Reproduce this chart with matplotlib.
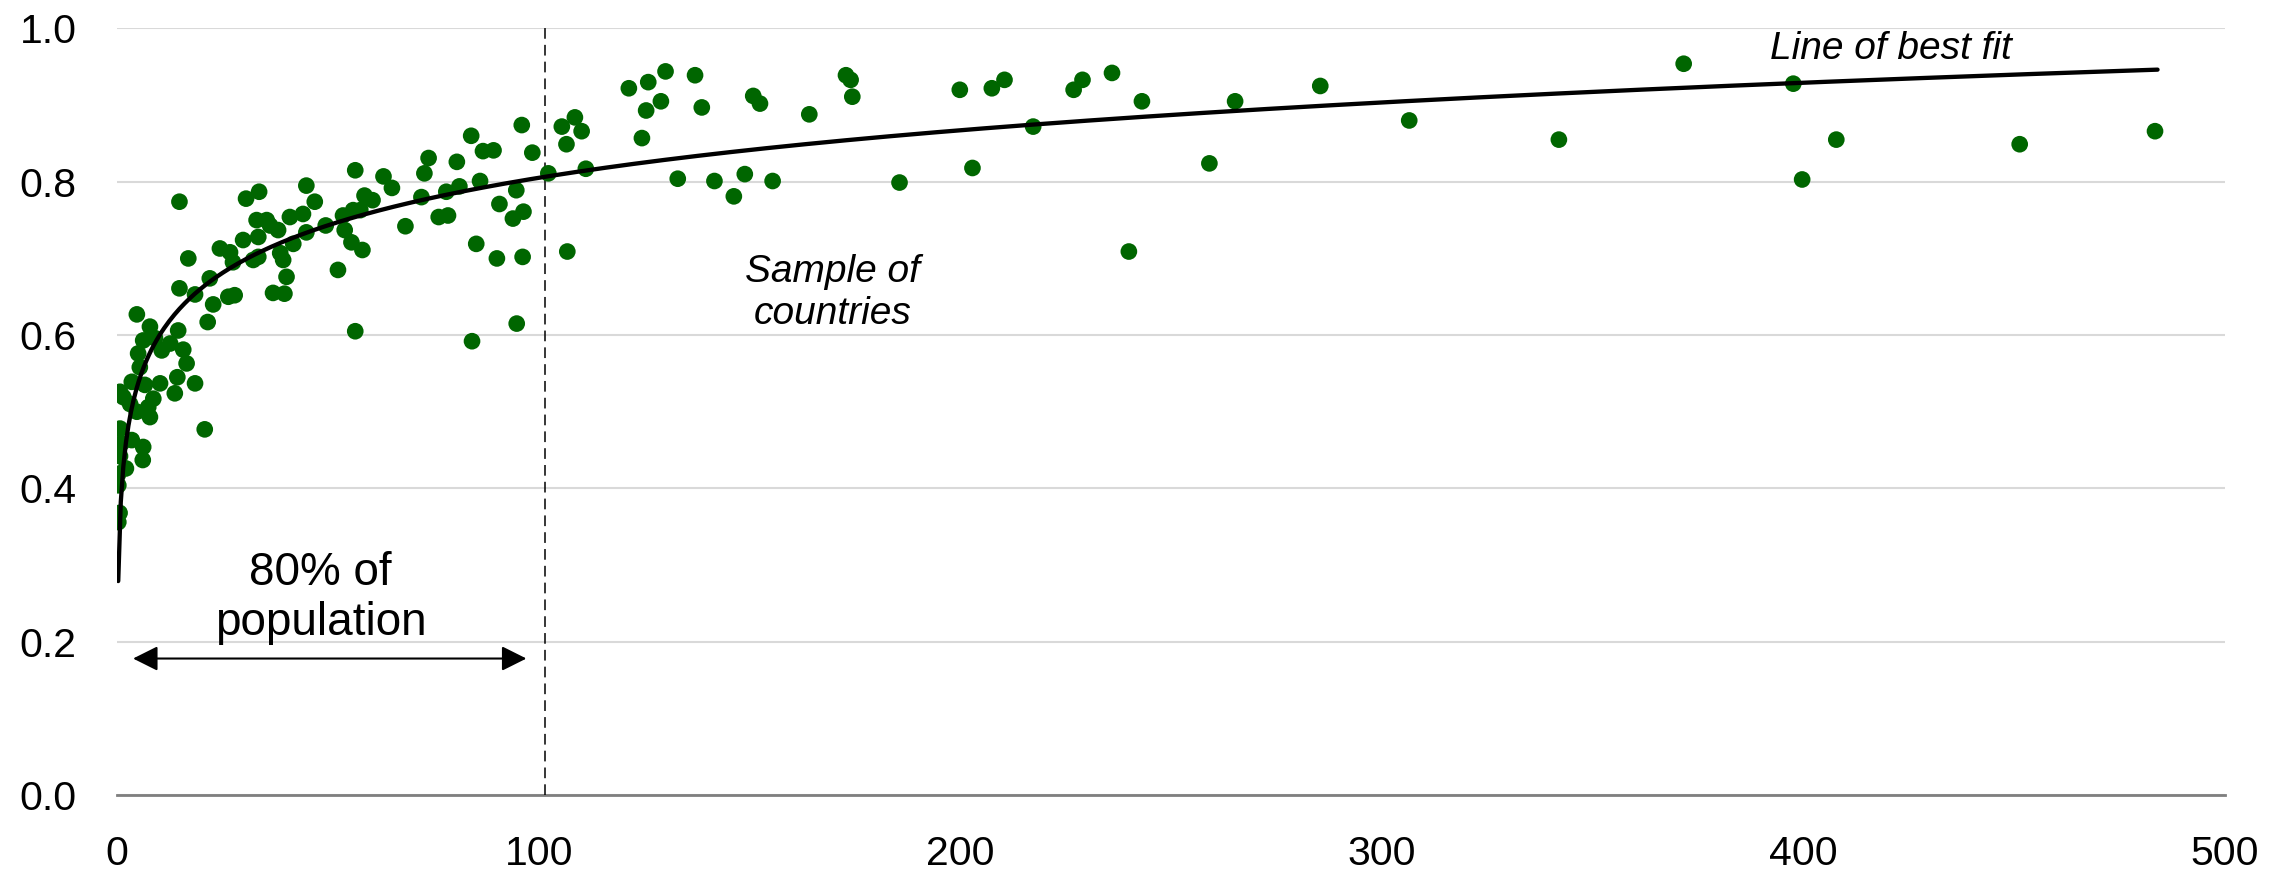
import numpy as np
import matplotlib
matplotlib.use("Agg")
import matplotlib.pyplot as plt

plt.rcParams['font.family'] = ['Liberation Sans', 'DejaVu Sans']

# ---- data: sample of countries (x, y) ----
x_vals = [
    0.3, 0.6, 0.3, 0.3, 2.1, 0.7, 6.1, 6.2, 3.5, 1.1, 0.7, 20.8, 7.8, 4.7, 3.1, 7.4,
    8.6, 6.6, 1.5, 0.7, 3.5, 13.7, 10.2, 18.5, 14.3, 5.4, 16.5, 12.6, 5.0, 15.7, 10.6,
    14.5, 9.0, 6.2, 7.8, 4.7, 21.5, 27.9, 26.4, 22.8, 14.8, 18.5, 14.8, 16.9, 22.0,
    27.5, 26.8, 24.4, 33.5, 32.3, 33.5, 29.9, 38.2, 36.3, 35.5, 33.1, 33.7, 30.6,
    38.7, 39.7, 37.0, 40.2, 39.4, 41.8, 49.5, 41.0, 44.9, 44.1, 46.9, 56.5, 52.4,
    58.2, 55.6, 54.0, 57.7, 56.0, 53.6, 60.6, 58.7, 68.4, 106.8, 84.2, 94.8, 96.2,
    90.1, 85.2, 78.5, 76.3, 96.4, 93.9, 90.7, 94.7, 86.1, 81.2, 78.1, 72.2, 44.9,
    65.2, 63.2, 56.5, 102.3, 98.5, 89.3, 86.8, 80.6, 72.9, 73.9, 84.0, 96.0,
    105.5, 108.6, 110.2, 106.6, 111.2,
    121.4, 126.0, 130.1, 129.0, 125.5, 124.5, 137.1, 138.7, 133.0, 141.7, 146.3,
    148.9, 150.9, 152.5, 155.5, 164.2, 172.9, 174.0, 174.4, 185.6, 199.9, 207.5,
    210.5, 202.9, 217.3, 226.9, 229.0, 236.0, 243.1, 240.0, 259.1, 265.2,
    285.4, 306.5, 342.0, 371.6, 397.6, 399.7, 407.8, 451.3, 483.4,
]
y_vals = [
    0.356, 0.368, 0.404, 0.419, 0.426, 0.442, 0.437, 0.454, 0.463, 0.459, 0.478, 0.477,
    0.493, 0.500, 0.510, 0.506, 0.517, 0.535, 0.519, 0.526, 0.539, 0.524, 0.537, 0.537,
    0.545, 0.558, 0.563, 0.589, 0.576, 0.581, 0.580, 0.606, 0.596, 0.593, 0.611, 0.627,
    0.617, 0.652, 0.650, 0.640, 0.774, 0.653, 0.661, 0.700, 0.674, 0.695, 0.708, 0.713,
    0.702, 0.698, 0.728, 0.724, 0.737, 0.743, 0.750, 0.750, 0.787, 0.778, 0.707, 0.654,
    0.655, 0.676, 0.698, 0.719, 0.743, 0.754, 0.734, 0.758, 0.774, 0.605, 0.685, 0.711,
    0.721, 0.737, 0.763, 0.763, 0.756, 0.776, 0.782, 0.742, 0.709, 0.592, 0.615, 0.702,
    0.700, 0.719, 0.756, 0.754, 0.761, 0.752, 0.771, 0.789, 0.801, 0.794, 0.787, 0.780,
    0.795, 0.792, 0.807, 0.815, 0.811, 0.838, 0.841, 0.840, 0.826, 0.811, 0.831, 0.860,
    0.874,
    0.872, 0.884, 0.866, 0.849, 0.817,
    0.922, 0.930, 0.944, 0.905, 0.893, 0.857, 0.939, 0.897, 0.804, 0.801, 0.781,
    0.810, 0.912, 0.902, 0.801, 0.888, 0.939, 0.933, 0.911, 0.799, 0.920, 0.922,
    0.933, 0.818, 0.872, 0.920, 0.933, 0.942, 0.905, 0.709, 0.824, 0.905,
    0.925, 0.880, 0.855, 0.954, 0.928, 0.803, 0.855, 0.849, 0.866,
]

x_ticks = [0, 100, 200, 300, 400, 500]
y_ticks = [0.0, 0.2, 0.4, 0.6, 0.8, 1.0]
threshold_x = 101.5          # 80% of population boundary
arrow_span = [3.8, 97.1]
arrow_y = 0.178

# logarithmic trendline as shown on the chart: y = intercept + slope * ln(x)
fit_intercept = 0.393
fit_slope = 0.0895
fit_range = [0.28, 484.0]

x = np.array(x_vals)
y = np.array(y_vals)

xf = np.linspace(fit_range[0], fit_range[1], 800)
yf = fit_intercept + fit_slope * np.log(xf)

fig = plt.figure(figsize=(22.95, 8.71), dpi=100)
ax = fig.add_axes([0.0510, 0.0873, 0.9185, 0.8800])

ax.set_xlim(0, 500)
ax.set_ylim(0, 1.0)
ax.set_yticks(y_ticks)
ax.set_xticks(x_ticks)
ax.set_yticklabels([f"{v:.1f}" for v in y_ticks])
ax.set_xticklabels([str(v) for v in x_ticks])
ax.tick_params(axis='both', length=0, labelsize=29.5, pad=29, colors='black')

ax.grid(axis='y', color='#d9d9d9', linewidth=1.5)
ax.set_axisbelow(True)
for s in ['left', 'right', 'top']:
    ax.spines[s].set_visible(False)
ax.spines['bottom'].set_color('#7f7f7f')
ax.spines['bottom'].set_linewidth(2)
ax.spines['bottom'].set_zorder(1)

ax.scatter(x, y, s=144, color='#006600', edgecolors='none', zorder=3)
ax.plot(xf, yf, color='black', linewidth=3.1, zorder=4, solid_capstyle='round')

ax.axvline(threshold_x, color='black', linewidth=1.1, linestyle=(0, (7, 4)), zorder=2)

ax.annotate('', xy=(arrow_span[1], arrow_y), xytext=(arrow_span[0], arrow_y),
            arrowprops=dict(arrowstyle='<|-|>', color='black', lw=1.5,
                            mutation_scale=38, shrinkA=0, shrinkB=0))

ax.text(48.3, 0.257, '80% of\npopulation', ha='center', va='center',
        fontsize=33, linespacing=1.15)
ax.text(169.8, 0.655, 'Sample of\ncountries', ha='center', va='center',
        fontsize=28, style='italic', linespacing=1.2)
ax.text(420.7, 0.9605, 'Line of best fit', ha='center', va='baseline',
        fontsize=28, style='italic')

fig.savefig('out.png', dpi=100)
